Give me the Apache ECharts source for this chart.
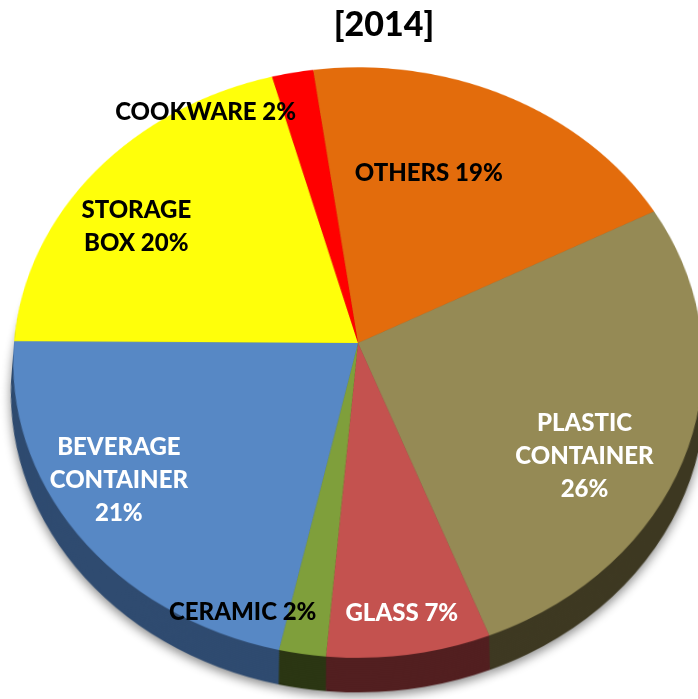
<!DOCTYPE html>
<html><head><meta charset="utf-8">
<script src="https://cdn.jsdelivr.net/npm/echarts@6.0.0/dist/echarts.min.js"></script>
<style>
html,body{margin:0;padding:0;background:#fff;}
#wrap{position:relative;width:698px;height:699px;overflow:hidden;background:#fff;}
#pie{position:absolute;}
#lab{position:absolute;left:0;top:0;width:698px;height:699px;}
</style></head><body>
<div id="wrap"><div id="pie"></div><div id="lab"></div></div>
<script>
// ---- data ----
const chartTitle = '[2014]';
const categories = ['OTHERS', 'PLASTIC CONTAINER', 'GLASS', 'CERAMIC', 'BEVERAGE CONTAINER', 'STORAGE BOX', 'COOKWARE'];
const values = [19, 26, 7, 2, 21, 20, 2];

// ---- styles ----
const topColors = ['#E36C0C', '#958A55', '#C4524F', '#7F9F3B', '#5788C5', '#FFFF0A', '#FF0000'];
const sideColors = ['#7A3A06', '#3E3922', '#521F20', '#2B3613', '#2F4B70', '#8A8A00', '#800000'];
const labelColors = ['#000', '#fff', '#fff', '#000', '#fff', '#000', '#000'];
const labelNudge = [[-48, 27], [-32, 30], [4, 28], [-72, 28], [-20, -12], [-13, 20], [-100, -15]];

// ---- 3D look: circular pie tilted with CSS perspective ----
const CX = 358, CY = 343, R = 344, TILT = 31.3, PERSP = 2695, DEPTH = 35, PAD = 10;
const SA = Math.sin(TILT * Math.PI / 180), CA = Math.cos(TILT * Math.PI / 180);
const START = 98;

const pieEl = document.getElementById('pie');
pieEl.style.width = (2 * R + 2 * PAD) + 'px';
pieEl.style.height = (2 * R + 2 * PAD + DEPTH + 30) + 'px';
pieEl.style.left = (CX - R - PAD) + 'px';
pieEl.style.top = (CY - R - PAD) + 'px';
pieEl.style.transformOrigin = (R + PAD) + 'px ' + (R + PAD) + 'px';
pieEl.style.transform = 'perspective(' + PERSP + 'px) rotateX(' + TILT + 'deg)';

function labelText(name, v) {
  const words = name.split(' ');
  if (words.length === 1) return name + ' ' + v + '%';
  if (name.length > 12) return words.join('\n') + '\n' + v + '%';
  return words.join('\n') + ' ' + v + '%';
}

const pieChart = echarts.init(pieEl, null, {renderer: 'canvas', devicePixelRatio: 2});
const series = [];
const NL = 18;
for (let k = NL; k >= 1; k--) {
  const item = {borderWidth: 0};
  if (k === NL) { item.shadowBlur = 10; item.shadowColor = 'rgba(0,0,0,0.45)'; item.shadowOffsetY = 4; }
  series.push({
    type: 'pie', silent: true, startAngle: START, clockwise: true,
    center: [R + PAD, R + PAD + DEPTH * k / NL], radius: [0, R],
    label: {show: false}, labelLine: {show: false}, itemStyle: item,
    data: categories.map((n, i) => ({name: n, value: values[i], itemStyle: {color: sideColors[i]}}))
  });
}
series.push({
  type: 'pie', silent: true, startAngle: START, clockwise: true,
  center: [R + PAD, R + PAD], radius: [0, R],
  label: {show: false}, labelLine: {show: false}, itemStyle: {borderWidth: 0},
  data: categories.map((n, i) => ({name: n, value: values[i], itemStyle: {color: topColors[i]}}))
});
pieChart.setOption({animation: false, series: series});

const labChart = echarts.init(document.getElementById('lab'), null, {renderer: 'canvas'});
labChart.setOption({
  animation: false,
  title: {
    text: chartTitle, left: 379, textAlign: 'center', top: 3,
    textStyle: {fontFamily: 'Lato', fontWeight: 900, fontSize: 34, color: '#000'}
  },
  series: [{
    type: 'pie', silent: true, startAngle: START, clockwise: true,
    center: [CX, CY], radius: [R * 0.56, R],
    itemStyle: {color: 'rgba(0,0,0,0)', borderWidth: 0},
    label: {
      show: true, position: 'inside', fontFamily: 'Lato', fontWeight: 900,
      fontSize: 24, lineHeight: 33,
      formatter: p => labelText(p.name, p.value)
    },
    labelLine: {show: false},
    data: categories.map((n, i) => ({name: n, value: values[i], label: {color: labelColors[i]}})),
    labelLayout: function (p) {
      const i = p.dataIndex;
      const lx = p.labelRect.x + p.labelRect.width / 2;
      const ly = p.labelRect.y + p.labelRect.height / 2;
      const x = lx - CX, y = ly - CY;
      const f = PERSP / (PERSP - y * SA);
      const nx = CX + x * f, ny = CY + y * CA * f;
      return {dx: nx - lx + labelNudge[i][0], dy: ny - ly + labelNudge[i][1]};
    }
  }]
});
</script>
</body></html>
